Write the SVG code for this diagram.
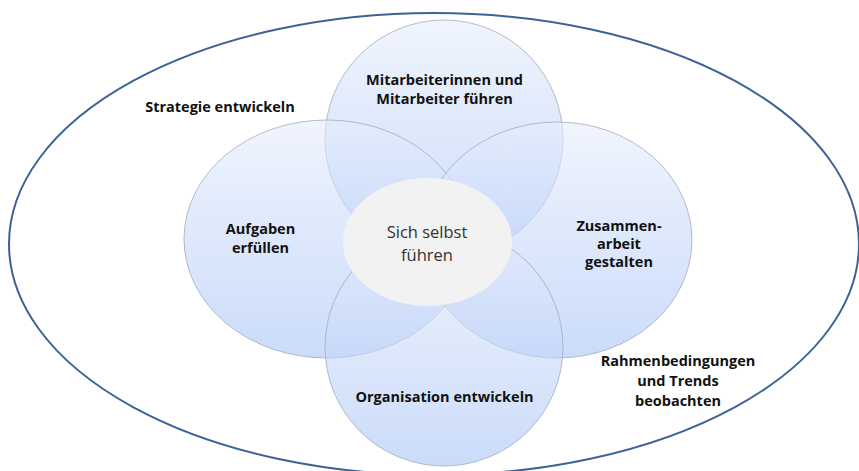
<svg xmlns="http://www.w3.org/2000/svg" width="859" height="471" viewBox="0 0 859 471">
  <defs>
    <linearGradient id="blue" x1="0" y1="0" x2="0" y2="1">
      <stop offset="0" stop-color="#e6edfc"/>
      <stop offset="1" stop-color="#a8c4f6"/>
    </linearGradient>
    <style>
      .outer { fill: none; stroke: #3d6396; stroke-width: 2; }
      .base { fill: #ffffff; stroke: none; }
      .petal { fill: url(#blue); fill-opacity: 0.6; stroke: #a3abbb; stroke-width: 0.8; }
      .core { fill: #f2f2f2; stroke: none; }
      .lbl { font-family: "Open Sans", "Liberation Sans", sans-serif; font-weight: 700; font-size: 14.5px; fill: #111111; text-anchor: middle; }
      .core-lbl { font-family: "Open Sans", "Liberation Sans", sans-serif; font-weight: 400; font-size: 16.5px; fill: #333333; text-anchor: middle; }
    </style>
  </defs>

  <g id="outer">
    <ellipse class="outer" cx="434" cy="244" rx="425" ry="231"/>
    <text class="lbl" x="220" y="112">Strategie entwickeln</text>
    <text class="lbl" x="678" y="366">Rahmenbedingungen</text>
    <text class="lbl" x="678" y="386">und Trends</text>
    <text class="lbl" x="678" y="406">beobachten</text>
  </g>

  <g id="bases">
    <circle class="base" cx="444" cy="139" r="119"/>
    <ellipse class="base" cx="327" cy="239" rx="143" ry="119"/>
    <ellipse class="base" cx="557" cy="240" rx="135" ry="118"/>
    <circle class="base" cx="444" cy="347" r="119"/>
  </g>

  <g id="node-top">
    <circle class="petal" cx="444" cy="139" r="119"/>
  </g>
  <g id="node-left">
    <ellipse class="petal" cx="327" cy="239" rx="143" ry="119"/>
  </g>
  <g id="node-right">
    <ellipse class="petal" cx="557" cy="240" rx="135" ry="118"/>
  </g>
  <g id="node-bottom">
    <circle class="petal" cx="444" cy="347" r="119"/>
  </g>
  <g id="node-center">
    <ellipse class="core" cx="427.5" cy="242" rx="84.5" ry="64"/>
  </g>

  <g id="labels">
    <text class="lbl" x="444.5" y="85">Mitarbeiterinnen und</text>
    <text class="lbl" x="444.5" y="104">Mitarbeiter führen</text>
    <text class="lbl" x="260.5" y="234">Aufgaben</text>
    <text class="lbl" x="260.5" y="253">erfüllen</text>
    <text class="lbl" x="619" y="231">Zusammen-</text>
    <text class="lbl" x="619" y="249">arbeit</text>
    <text class="lbl" x="619" y="267">gestalten</text>
    <text class="lbl" x="444.5" y="402">Organisation entwickeln</text>
    <text class="core-lbl" x="427" y="238">Sich selbst</text>
    <text class="core-lbl" x="427" y="261">führen</text>
  </g>

  <g id="connectors"></g>
</svg>
